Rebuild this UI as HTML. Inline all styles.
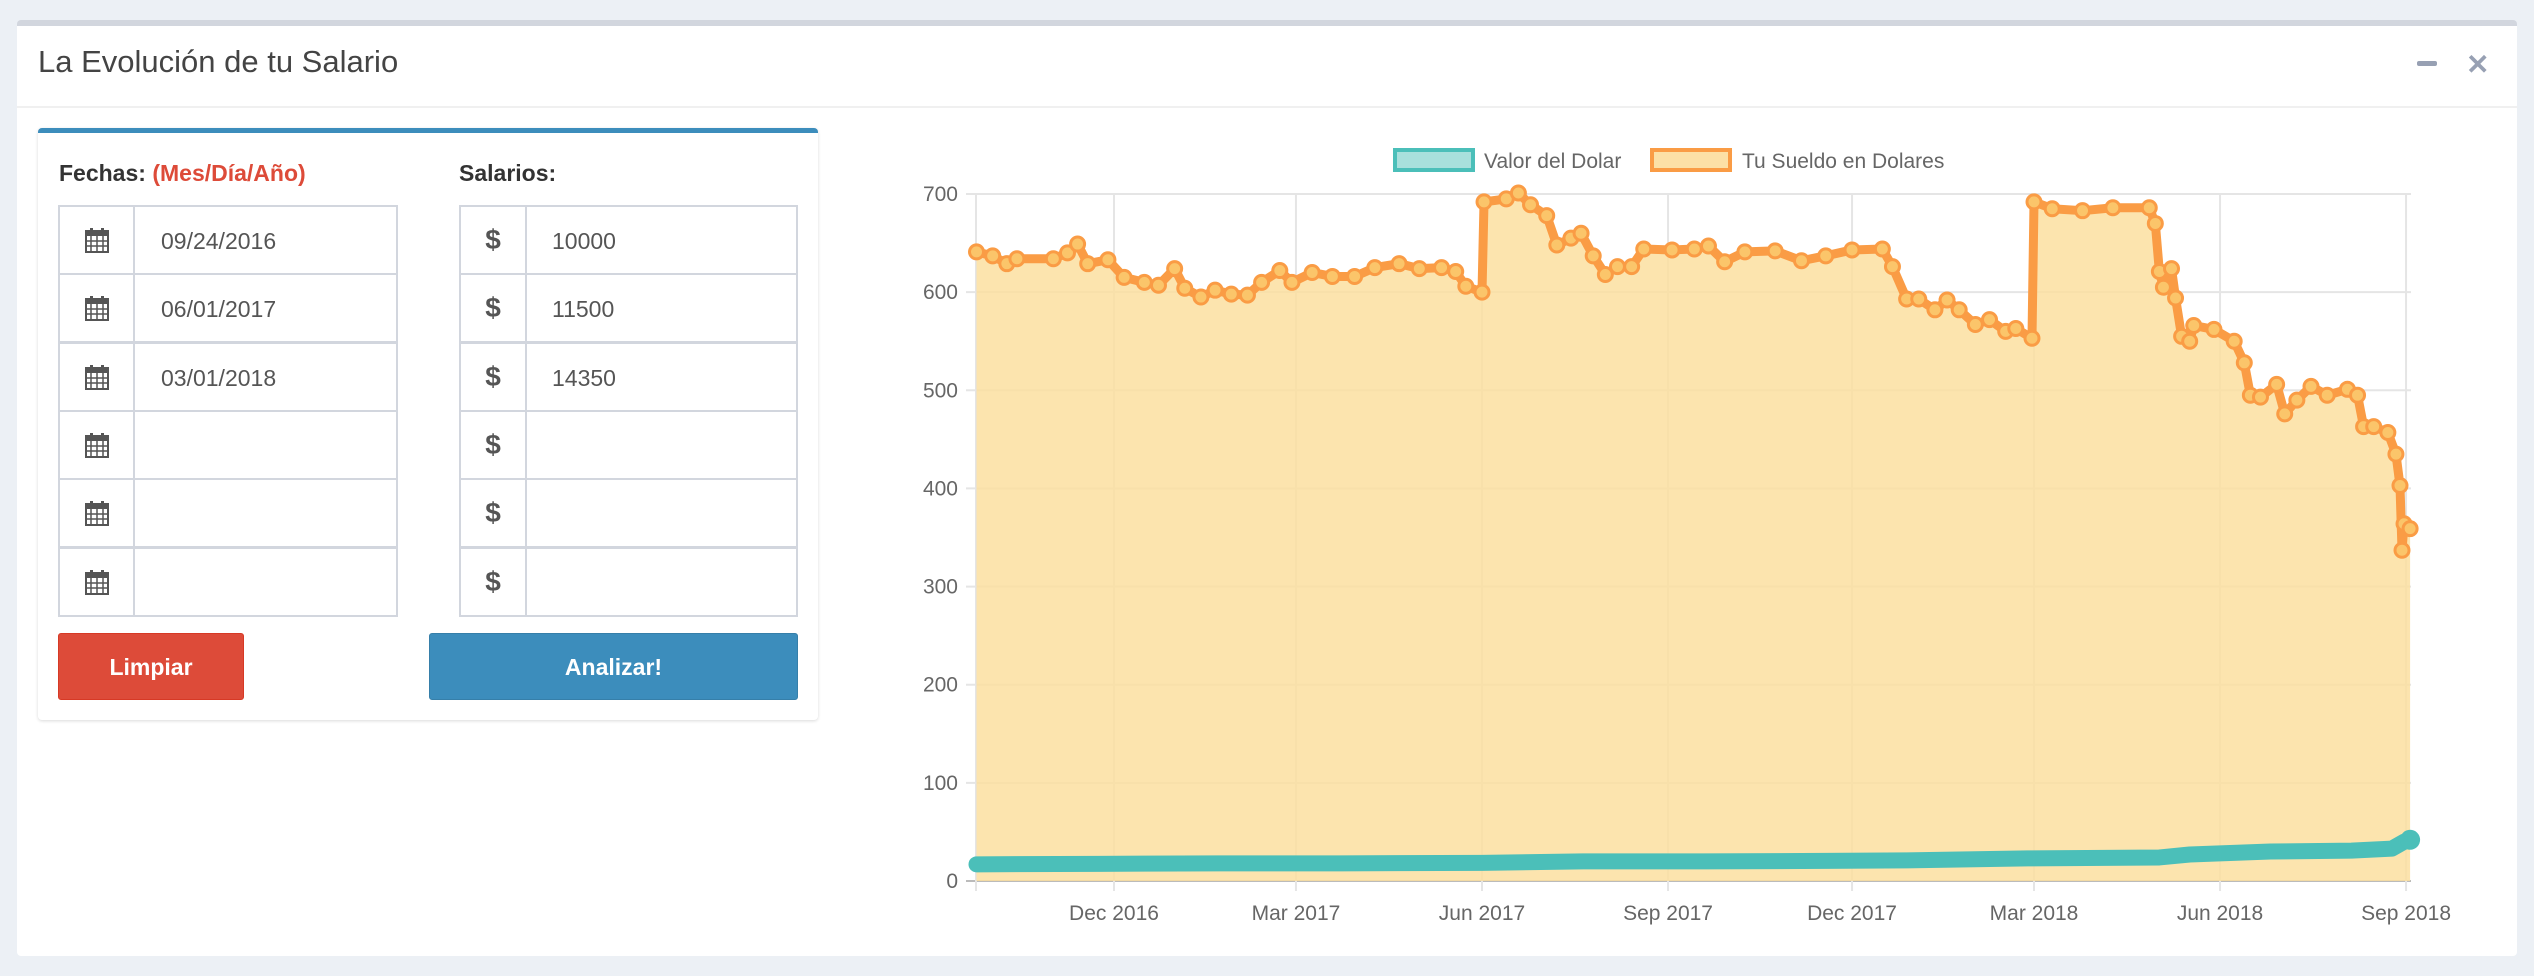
<!DOCTYPE html>
<html><head><meta charset="utf-8">
<style>
body{margin:0;width:2534px;height:976px;background:#ecf0f5;position:relative;overflow:hidden;font-family:"Liberation Sans",sans-serif;}
.abs{position:absolute;}
#panel{left:17px;top:20px;width:2500px;height:936px;background:#fff;border-top:6px solid #d2d6de;border-radius:4px;box-sizing:border-box;}
.title{left:38px;top:44px;font-size:31px;color:#444;}
.sep{left:17px;top:106px;width:2500px;height:2px;background:#f0f0f0;}
#box{left:38px;top:128px;width:780px;height:592px;background:#fff;border-top:5px solid #3c8dbc;border-radius:4px;box-shadow:0 1px 3px rgba(0,0,0,.15);box-sizing:border-box;}
.lbl{font-weight:bold;font-size:23px;color:#333;top:160px;}
.cell{border:2px solid #d2d6de;box-sizing:border-box;background:#fff;}
.txt{font-size:23px;color:#555;}
.btn{color:#fff;font-size:23px;font-weight:bold;text-align:center;line-height:67px;border-radius:3px;box-sizing:border-box;}
</style></head><body>
<div id="panel" class="abs"></div>
<div class="abs title">La Evolución de tu Salario</div>
<div class="abs" style="left:2417px;top:61px;width:20px;height:5px;background:#97a0b3;border-radius:2px"></div>
<div class="abs" style="left:2466px;top:48px;font-size:28px;font-weight:bold;color:#97a0b3">✕</div>
<div class="abs sep"></div>
<div id="box" class="abs"></div>
<div class="abs lbl" style="left:59px">Fechas: <span style="color:#dd4b39">(Mes/Día/Año)</span></div>
<div class="abs lbl" style="left:459px">Salarios:</div>
<div id="rows"></div>
<div class="abs btn" style="left:58px;top:633px;width:186px;height:67px;background:#dd4b39;border:1px solid #d73925">Limpiar</div>
<div class="abs btn" style="left:429px;top:633px;width:369px;height:67px;background:#3c8dbc;border:1px solid #367fa9">Analizar!</div>
<svg class="abs" style="left:0;top:0" width="2534" height="976" id="chart"></svg>
<script>
const dates=["09/24/2016","06/01/2017","03/01/2018","","",""];
const sals=["10000","11500","14350","","",""];
const rows=document.getElementById('rows');
const calSvg='<svg width="24" height="26" viewBox="0 0 24 26"><rect x="1" y="4" width="22" height="21" fill="none" stroke="#555" stroke-width="2"/><rect x="1" y="4" width="22" height="5" fill="#555"/><rect x="5" y="1" width="3" height="6" fill="#555"/><rect x="16" y="1" width="3" height="6" fill="#555"/><path d="M1 14H23M1 19H23M6 9V25M12 9V25M18 9V25" stroke="#555" stroke-width="1.5"/></svg>';
for(let i=0;i<6;i++){
  const y=205+i*68.3;
  let h='';
  h+='<div class="abs cell" style="left:58px;top:'+y+'px;width:77px;height:70px;text-align:center;padding-top:20px">'+calSvg+'</div>';
  h+='<div class="abs cell txt" style="left:133px;top:'+y+'px;width:265px;height:70px;padding:21px 0 0 26px">'+dates[i]+'</div>';
  h+='<div class="abs cell" style="left:459px;top:'+y+'px;width:68px;height:70px;text-align:center;font-size:28px;font-weight:bold;color:#555;padding-top:17px">$</div>';
  h+='<div class="abs cell txt" style="left:525px;top:'+y+'px;width:273px;height:70px;padding:21px 0 0 25px">'+sals[i]+'</div>';
  rows.insertAdjacentHTML('beforeend',h);
}
</script>
<script>
// chart data (day index from 2016-09-24)
const sueldoDays=[0,8,15,20,38,45,50,55,65,73,83,90,98,103,111,118,126,134,141,150,156,166,176,187,197,209,219,230,237,242,250,251,262,268,274,282,287,294,299,305,311,317,324,330,344,355,362,370,380,395,408,420,433,448,453,460,466,474,480,486,494,501,509,514,522,523,532,547,562,580,583,585,587,591,593,596,600,602,612,622,627,630,635,643,647,653,660,668,678,683,686,691,698,702,704,705,706,709];
const sueldoVals=[641,637,629,634,634,640,649,629,633,615,610,607,624,604,595,602,598,597,610,622,610,620,616,616,625,629,624,625,621,606,600,692,695,701,689,678,648,655,660,637,618,626,626,644,643,644,647,631,641,642,632,637,643,644,626,593,593,582,592,582,567,572,560,563,553,692,685,683,686,686,670,621,605,624,594,555,550,566,562,550,528,495,493,506,476,490,504,495,501,495,463,463,457,435,403,337,364,359];
const dolarDays=[0,60,120,180,250,300,360,420,460,520,585,600,640,680,700,706,709];
const dolarVals=[17,17.5,18,18,18.5,20,20,20.5,21,23,24,27,30,31,33,40,42];
const yTicks=[0,100,200,300,400,500,600,700];
const xTickLabels=["Dec 2016","Mar 2017","Jun 2017","Sep 2017","Dec 2017","Mar 2018","Jun 2018","Sep 2018"];
const xTickDays=[68,158,250,342,433,523,615,707];

const svg=document.getElementById('chart');
const NS='http://www.w3.org/2000/svg';
const X=d=>976.5+d*2.022;
const Y=v=>881-v*687/700;
function mk(tag,attrs,name){const e=document.createElementNS(NS,tag);for(const k in attrs)e.setAttribute(k,attrs[k]);


svg.appendChild(e);return e;}
yTicks.forEach(v=>{
  mk('line',{x1:966,x2:2411,y1:Y(v),y2:Y(v),stroke:v===0?'#bbb':'#e5e5e5','stroke-width':2},'y-gridline');
  const t=mk('text',{x:958,y:Y(v)+7,'text-anchor':'end','font-size':21,fill:'#666','font-family':'Liberation Sans'},'y-tick-label');t.textContent=v;
});
mk('line',{x1:976,x2:976,y1:Y(700),y2:891,stroke:'#e5e5e5','stroke-width':2},'y-axis-line');
xTickDays.forEach((d,i)=>{
  mk('line',{x1:X(d),x2:X(d),y1:Y(700),y2:891,stroke:'#e5e5e5','stroke-width':2},'x-gridline');
  const t=mk('text',{x:X(d),y:920,'text-anchor':'middle','font-size':21,fill:'#666','font-family':'Liberation Sans'},'x-tick-label');t.textContent=xTickLabels[i];
});
let pts=sueldoDays.map((d,i)=>X(d)+','+Y(sueldoVals[i])).join(' ');
mk('polygon',{points:X(sueldoDays[0])+','+Y(0)+' '+pts+' '+X(sueldoDays[sueldoDays.length-1])+','+Y(0),fill:'rgba(252,223,160,0.85)'},'sueldo-area');
let dp=dolarDays.map((d,i)=>X(d)+','+Y(dolarVals[i])).join(' ');
mk('polyline',{points:dp,fill:'none',stroke:'#4bbfb9','stroke-width':16,'stroke-linejoin':'round','stroke-linecap':'round'},'dolar-line');
mk('circle',{cx:X(dolarDays[dolarDays.length-1]),cy:Y(dolarVals[dolarVals.length-1]),r:10,fill:'#4bbfb9'},'dolar-end-point');
mk('polyline',{points:pts,fill:'none',stroke:'#fa9c45','stroke-width':9,'stroke-linejoin':'round'},'sueldo-line');
sueldoDays.forEach((d,i)=>{
  mk('circle',{cx:X(d),cy:Y(sueldoVals[i]),r:7,fill:'#fbc56a',stroke:'#fa9c45','stroke-width':3},'sueldo-point');
});
mk('rect',{x:1395,y:150,width:78,height:20,fill:'#a8e0dc',stroke:'#4bbfb9','stroke-width':4},'legend-dolar-swatch');
let t=mk('text',{x:1484,y:168,'font-size':21,fill:'#666','font-family':'Liberation Sans'},'legend-dolar-label');t.textContent='Valor del Dolar';
mk('rect',{x:1652,y:150,width:78,height:20,fill:'#fce0a6',stroke:'#fa9c45','stroke-width':4},'legend-sueldo-swatch');
t=mk('text',{x:1742,y:168,'font-size':21,fill:'#666','font-family':'Liberation Sans'},'legend-sueldo-label');t.textContent='Tu Sueldo en Dolares';
</script>
</body></html>
